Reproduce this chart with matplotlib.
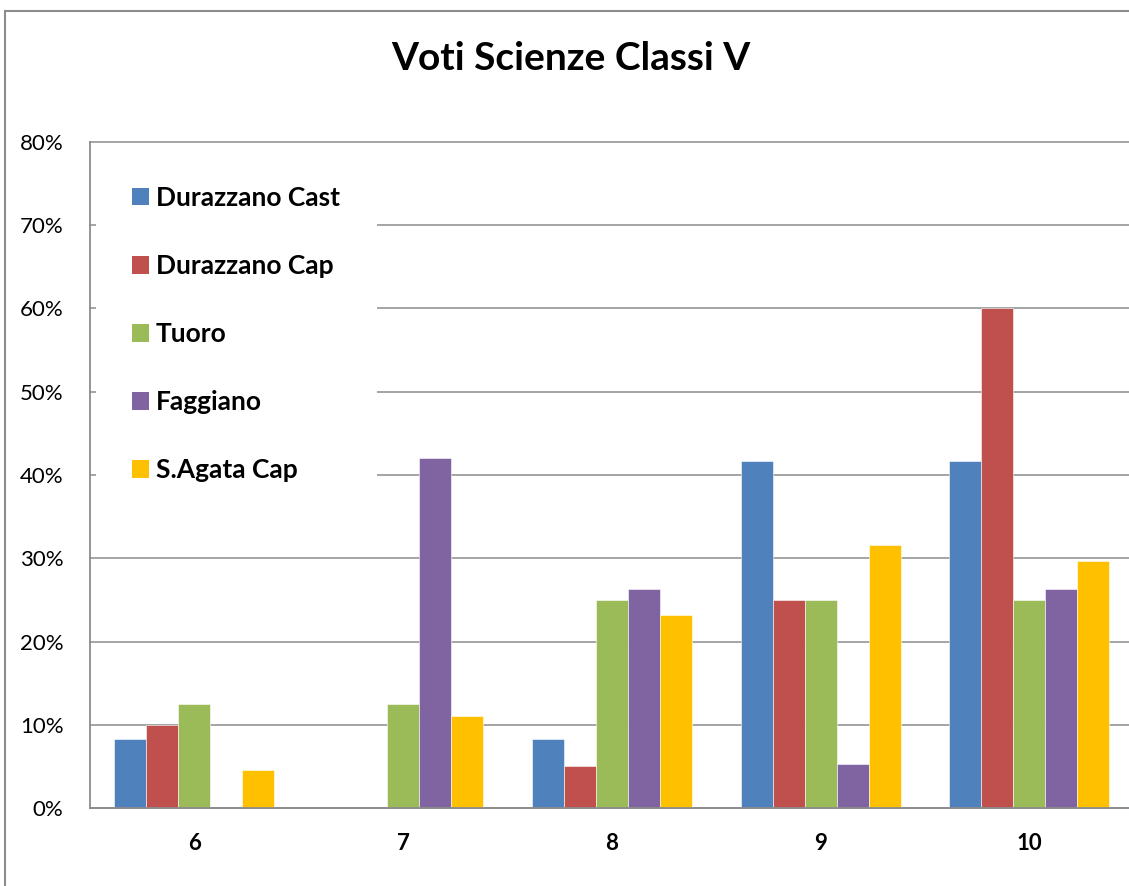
import matplotlib
matplotlib.use("Agg")
import matplotlib.pyplot as plt
from matplotlib.patches import Rectangle, Patch
from matplotlib.ticker import PercentFormatter
import numpy as np

categories = ["6", "7", "8", "9", "10"]
series_names = ["Durazzano Cast", "Durazzano Cap", "Tuoro", "Faggiano", "S.Agata Cap"]
durazzano_cast = [8.33, 0.0, 8.33, 41.67, 41.67]
durazzano_cap = [10.0, 0.0, 5.0, 25.0, 60.0]
tuoro = [12.5, 12.5, 25.0, 25.0, 25.0]
faggiano = [0.0, 42.1, 26.3, 5.26, 26.3]
sagata_cap = [4.55, 11.0, 23.2, 31.6, 29.7]
colors = ["#4F81BD", "#C0504D", "#9BBB59", "#8064A2", "#FFC000"]
yticks = [0, 10, 20, 30, 40, 50, 60, 70, 80]

series = [durazzano_cast, durazzano_cap, tuoro, faggiano, sagata_cap]

plt.rcParams['font.family'] = ['Lato', 'DejaVu Sans']

W, H = 1129, 886
fig = plt.figure(figsize=(W / 100, H / 100), dpi=100)
fig.patch.set_facecolor("white")

# outer chart border (extends beyond the right/bottom edges)
fig.patches.append(Rectangle((4.5 / W, -0.2), 2.0, 1.2 - 11 / H, transform=fig.transFigure,
                             fill=False, edgecolor="#8c8c8c", linewidth=1.5))

ax = fig.add_axes([90 / W, 1 - 808 / H, 1043.75 / W, (808 - 142) / H])
x = np.arange(len(categories))
bw = 32 / 208.75
n = len(series)
for i, (vals, name, c) in enumerate(zip(series, series_names, colors)):
    ax.bar(x + (i - (n - 1) / 2) * bw, vals, width=bw, color=c, label=name,
           edgecolor="white", linewidth=0.4, zorder=2)

ax.set_xlim(-0.5, len(categories) - 0.5)
ax.set_ylim(0, 80)
ax.set_yticks(yticks)
ax.yaxis.set_major_formatter(PercentFormatter(decimals=0))
ax.set_xticks(x)
ax.set_xticklabels(categories, fontweight="bold")
ax.tick_params(axis="y", length=0, pad=19, labelsize=16)
ax.tick_params(axis="x", length=0, pad=18, labelsize=16)
ax.set_axisbelow(True)
ax.grid(axis="y", color="#8c8c8c", linewidth=1.1, zorder=0.5, clip_on=False)
for s in ["top", "right"]:
    ax.spines[s].set_visible(False)
for s in ["left", "bottom"]:
    ax.spines[s].set_color("#8c8c8c")
    ax.spines[s].set_linewidth(1.3)

# white legend area covering gridlines
ax.add_patch(Rectangle(((96 - 90) / 1043.75, (808 - 500) / 666),
                       (377 - 96) / 1043.75, (500 - 146) / 666, transform=ax.transAxes,
                       facecolor="white", edgecolor="none", zorder=1))

handles = [Patch(facecolor=c, edgecolor="none") for c in colors]
leg = ax.legend(handles, series_names, loc="upper left",
                bbox_to_anchor=((132 - 90) / 1043.75, (808 - 186) / 666),
                frameon=False, prop={"weight": "bold", "size": 19},
                handlelength=0.64, handleheight=0.64, handletextpad=0.27,
                labelspacing=1.67, borderpad=0, borderaxespad=0)
leg.set_zorder(3)

fig.text(571 / W, 1 - 58 / H, "Voti Scienze Classi V", ha="center", va="center",
         fontsize=28, fontweight="bold")

fig.savefig("out.png", dpi=100)
